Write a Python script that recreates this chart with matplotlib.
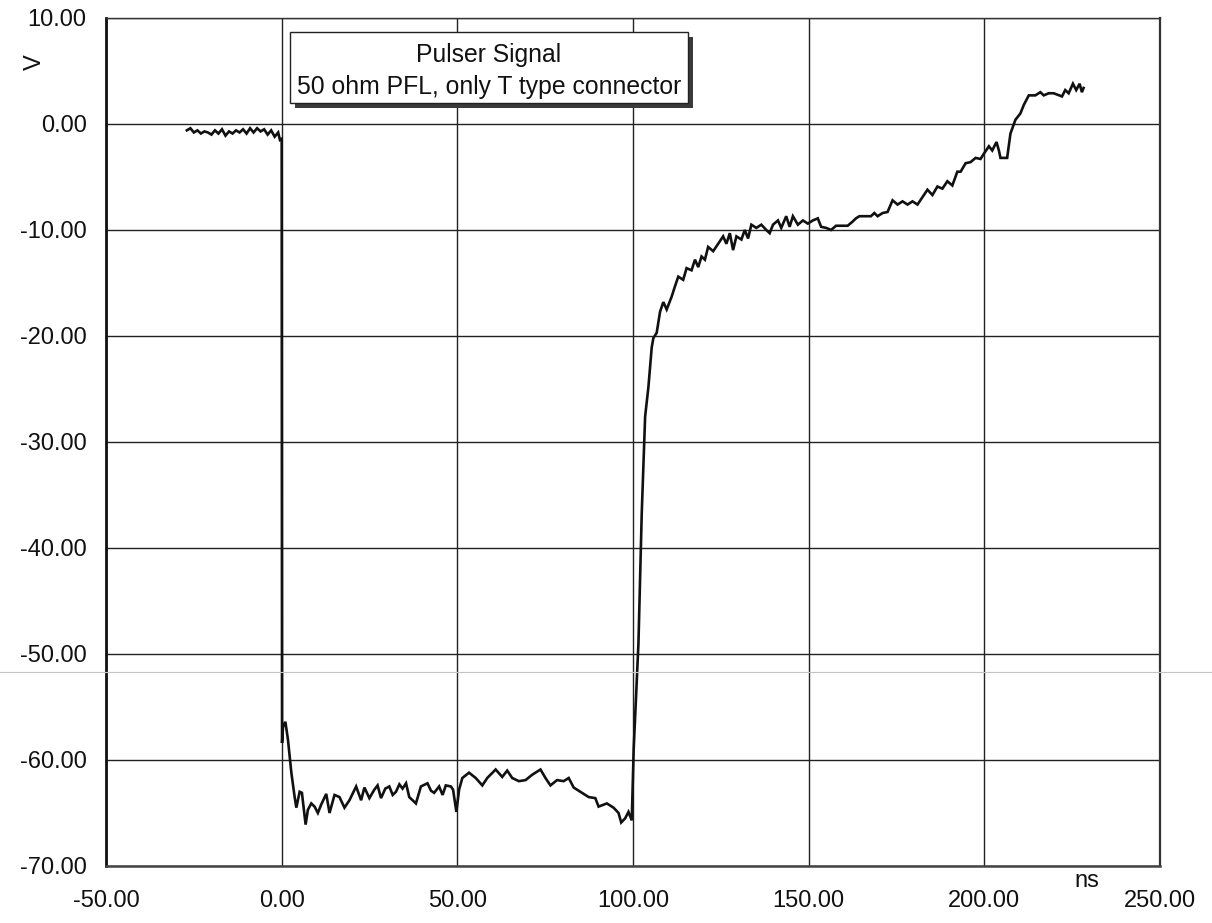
import matplotlib
matplotlib.use("Agg")
import matplotlib.pyplot as plt
from matplotlib.patches import Rectangle
from matplotlib.lines import Line2D

plt.rcParams["font.family"] = ["Liberation Sans", "DejaVu Sans"]

# Pulser output trace: time (ns) and voltage (V)
time_ns = [
    -27, -26, -25, -24, -23, -22, -21, -20, -19, -18, -17, -16, -15, -14,
    -13, -12, -11, -10, -9, -8, -7, -6, -5, -4, -3, -2, -1, -0.5, 0.0,
    0.1, 0.37, 1.05, 1.79, 2.75, 3.69, 4.17, 5.11, 5.76, 6.81, 7.46, 8.43,
    9.36, 10.30, 11.26, 12.68, 13.62, 15.04, 16.45, 17.87, 19.29, 21.19,
    22.61, 23.55, 24.96, 26.38, 27.3, 28.28, 29.5, 30.64, 31.6, 32.54,
    33.5, 34.41, 35.4, 36.31, 38.21, 39.63, 41.50, 42.5, 43.40, 44.82,
    45.8, 46.72, 48.14, 48.79, 49.73, 50.50, 51.43, 53.33, 55.23, 57.11,
    58.52, 60.91, 62.78, 64.2, 65.62, 67.52, 69.42, 71.29, 73.67, 75.09,
    76.51, 78.38, 80.28, 81.70, 83.12, 85.48, 87.38, 89.28, 90.21, 92.57,
    94.47, 95.89, 96.65, 97.79, 98.72, 99.66,
    100.2, 101.56, 102.5, 103.46, 104.4, 105.33, 105.8, 106.75, 107.72,
    108.65, 109.6, 111.0, 111.97, 112.9, 114.3, 115.26, 116.68, 117.65,
    118.58, 119.52, 120.48, 121.4, 122.84, 124.26, 125.67, 126.6, 127.57,
    128.5, 129.45, 130.87, 131.83, 132.77, 133.7, 135.12, 136.54, 137.96,
    138.92, 139.86, 141.28, 142.21, 143.63, 144.6, 145.53, 146.95, 148.37,
    149.79, 151.2, 152.62, 153.56, 154.98, 156.4, 157.8, 161.13, 162.55,
    163.49, 164.45, 167.74, 168.71, 169.65, 171.06, 172.48, 173.9, 175.32,
    176.74, 178.16, 179.57, 181.0, 182.4, 183.83, 185.25, 186.67, 188.09,
    189.5, 190.92, 192.34, 193.28, 194.7, 196.1, 197.53, 198.95, 199.9,
    201.33, 202.27, 203.49, 204.17, 204.62, 206.52, 207.46, 208.88, 210.3,
    211.26, 212.68, 214.55, 215.97, 216.94, 218.35, 219.77, 222.13, 223.06,
    224.03, 225.25, 226.18, 227.15, 227.8, 228.28,
]
volts = [
    -0.6, -0.4, -0.8, -0.6, -0.9, -0.7, -0.8, -1.0, -0.6, -0.9, -0.5, -1.1,
    -0.7, -0.9, -0.6, -0.8, -0.5, -0.9, -0.4, -0.8, -0.4, -0.7, -0.5, -1.0,
    -0.6, -1.2, -0.8, -1.5, -1.4,
    -58.4, -56.9, -56.4, -58.1, -61.2, -63.5, -64.5, -63.0, -63.1, -66.1,
    -64.7, -64.1, -64.4, -65.0, -64.2, -63.2, -65.0, -63.3, -63.5, -64.5,
    -63.8, -62.5, -63.8, -62.6, -63.6, -62.8, -62.4, -63.6, -62.7, -62.5,
    -63.3, -63.0, -62.3, -62.7, -62.2, -63.5, -64.1, -62.5, -62.2, -62.9,
    -63.1, -62.5, -63.3, -62.4, -62.5, -62.8, -64.9, -62.8, -61.7, -61.2,
    -61.7, -62.4, -61.7, -60.9, -61.6, -61.0, -61.7, -62.0, -61.9, -61.4,
    -60.9, -61.7, -62.4, -61.9, -62.0, -61.7, -62.6, -63.1, -63.5, -63.6,
    -64.4, -64.1, -64.5, -65.0, -65.9, -65.5, -64.9, -65.7,
    -59.0, -49.0, -36.7, -27.6, -24.8, -21.1, -20.2, -19.7, -17.7, -16.8,
    -17.5, -16.3, -15.3, -14.4, -14.7, -13.6, -13.8, -12.8, -13.5, -12.5,
    -12.8, -11.6, -12.0, -11.3, -10.6, -11.3, -10.3, -11.9, -10.6, -10.9,
    -10.0, -10.8, -9.5, -9.8, -9.5, -10.0, -10.3, -9.5, -9.1, -9.8, -8.7,
    -9.7, -8.7, -9.5, -9.1, -9.4, -9.1, -8.9, -9.7, -9.8, -10.0, -9.6,
    -9.6, -9.2, -8.9, -8.7, -8.7, -8.4, -8.7, -8.4, -8.3, -7.2, -7.6, -7.3,
    -7.6, -7.3, -7.6, -6.9, -6.2, -6.7, -5.9, -6.1, -5.4, -5.8, -4.5, -4.5,
    -3.7, -3.6, -3.2, -3.3, -2.8, -2.1, -2.5, -1.7, -2.5, -3.2, -3.2, -0.9,
    0.4, 1.0, 1.8, 2.7, 2.7, 3.0, 2.7, 2.9, 2.9, 2.6, 3.2, 2.9, 3.8, 3.2,
    3.8, 3.0, 3.4,
]

x_ticks = [-50, 0, 50, 100, 150, 200, 250]
y_ticks = [-70, -60, -50, -40, -30, -20, -10, 0, 10]
x_tick_labels = [f"{v:.2f}" for v in x_ticks]
y_tick_labels = [f"{v:.2f}" for v in y_ticks]
title_lines = ["Pulser Signal", "50 ohm PFL, only T type connector"]

fig = plt.figure(figsize=(12.12, 9.23), dpi=100)
ax = fig.add_axes([0.0875, 0.0618, 0.8695, 0.9187])

ax.plot(time_ns, volts, color="#111111", lw=1.9, solid_joinstyle="miter",
        zorder=3)

ax.set_xlim(-50, 250)
ax.set_ylim(-70, 10)
ax.set_xticks(x_ticks)
ax.set_xticklabels(x_tick_labels)
ax.set_yticks(y_ticks)
ax.set_yticklabels(y_tick_labels)
ax.tick_params(axis="both", length=0, labelsize=17, colors="#111111")
ax.tick_params(axis="x", pad=17)
ax.tick_params(axis="y", pad=14)

ax.grid(True, color="#222222", lw=1.0)
ax.set_axisbelow(True)

for side, lw, col in [("left", 2.0, "#111111"), ("bottom", 1.8, "#444444"),
                      ("right", 1.6, "#333333"), ("top", 1.0, "#333333")]:
    ax.spines[side].set_linewidth(lw)
    ax.spines[side].set_color(col)

# axis unit labels
fig.text(0.029, 0.933, "V", rotation=90, ha="center", va="center",
         fontsize=17, color="#111111")
fig.text(0.897, 0.046, "ns", ha="center", va="center", fontsize=17,
         color="#111111")

# boxed caption with drop shadow
bx0, bx1 = 0.1746, 0.552
by0, by1 = 0.8998, 0.9835
ax.add_patch(Rectangle((bx0 + 0.005, by0 - 0.006), bx1 - bx0, by1 - by0,
                       transform=ax.transAxes, facecolor="#3a3a3a",
                       edgecolor="none", zorder=5, clip_on=False))
ax.add_patch(Rectangle((bx0, by0), bx1 - bx0, by1 - by0,
                       transform=ax.transAxes, facecolor="white",
                       edgecolor="#222222", lw=1.0, zorder=6, clip_on=False))
cx = (bx0 + bx1) / 2
ax.text(cx, by0 + (by1 - by0) * 0.67, title_lines[0], transform=ax.transAxes,
        ha="center", va="center", fontsize=17.8, color="#111111", zorder=7)
ax.text(cx, by0 + (by1 - by0) * 0.22, title_lines[1], transform=ax.transAxes,
        ha="center", va="center", fontsize=17.8, color="#111111", zorder=7)

# faint horizontal streak across the page
fig.add_artist(Line2D([0, 1], [1 - 672 / 923, 1 - 672 / 923],
                      transform=fig.transFigure, color="#c4c4c4", lw=0.8,
                      zorder=10))

fig.savefig("out.png", dpi=100, facecolor="white")
